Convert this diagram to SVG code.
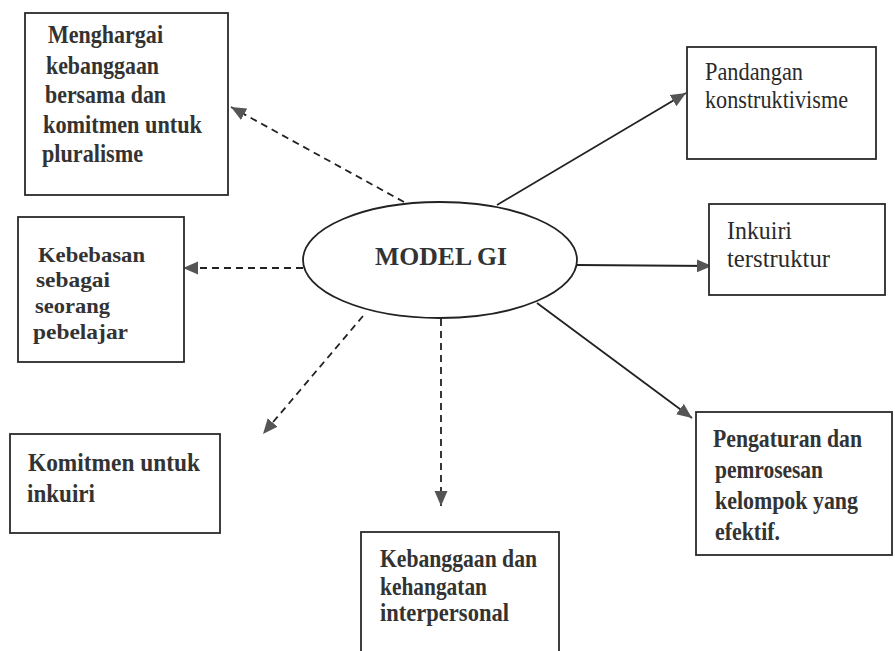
<svg xmlns="http://www.w3.org/2000/svg" width="895" height="651" viewBox="0 0 895 651">
<style>
.box{fill:#fff;stroke:#2a2a2a;stroke-width:1.8}
.t{font-family:"Liberation Serif","Times New Roman",serif;font-weight:bold;font-size:25px;fill:#333}
.r{font-weight:normal;fill:#2a2a2a}
.s{font-size:22px}
.c{fill:none;stroke:#222;stroke-width:1.8}
.d{stroke-dasharray:7 5}
</style>
<defs>
<marker id="ah" markerUnits="userSpaceOnUse" markerWidth="17" markerHeight="14" refX="15" refY="6.5" orient="auto">
<path d="M0,0 L15,6.5 L0,13 Z" fill="#555"/>
</marker>
</defs>
<rect width="895" height="651" fill="#fff"/>
<g id="connectors">
<line class="c d" x1="404" y1="202" x2="231" y2="107" marker-end="url(#ah)"/>
<line class="c" x1="497" y1="205" x2="686" y2="93" marker-end="url(#ah)"/>
<line class="c d" x1="303" y1="268" x2="183" y2="268" marker-end="url(#ah)"/>
<line class="c" x1="577" y1="265" x2="712" y2="266" marker-end="url(#ah)"/>
<line class="c d" x1="363" y1="316" x2="263" y2="434" marker-end="url(#ah)"/>
<line class="c d" x1="441" y1="319" x2="441" y2="506" marker-end="url(#ah)"/>
<line class="c" x1="537" y1="303" x2="692" y2="418" marker-end="url(#ah)"/>
</g>
<g id="center">
<ellipse cx="440" cy="260" rx="137" ry="58" fill="#fff" stroke="#222" stroke-width="1.8"/>
<text class="t" x="375" y="265" font-size="33" textLength="132" lengthAdjust="spacingAndGlyphs">MODEL GI</text>
</g>
<g id="n-menghargai">
<rect class="box" x="25" y="13" width="203" height="182"/>
<text class="t" x="48" y="43" textLength="115" lengthAdjust="spacingAndGlyphs">Menghargai</text>
<text class="t" x="46" y="74" textLength="113" lengthAdjust="spacingAndGlyphs">kebanggaan</text>
<text class="t" x="45" y="103" textLength="121" lengthAdjust="spacingAndGlyphs">bersama dan</text>
<text class="t" x="43" y="133" textLength="159" lengthAdjust="spacingAndGlyphs">komitmen untuk</text>
<text class="t" x="42" y="162" textLength="101" lengthAdjust="spacingAndGlyphs">pluralisme</text>
</g>
<g id="n-pandangan">
<rect class="box" x="687" y="47" width="189" height="112"/>
<text class="t r" x="705" y="80" textLength="98" lengthAdjust="spacingAndGlyphs">Pandangan</text>
<text class="t r" x="705" y="108" textLength="143" lengthAdjust="spacingAndGlyphs">konstruktivisme</text>
</g>
<g id="n-inkuiri">
<rect class="box" x="709" y="204" width="176" height="91"/>
<text class="t r" x="727" y="239" textLength="65" lengthAdjust="spacingAndGlyphs">Inkuiri</text>
<text class="t r" x="727" y="267" textLength="103" lengthAdjust="spacingAndGlyphs">terstruktur</text>
</g>
<g id="n-kebebasan">
<rect class="box" x="18" y="217" width="166" height="145"/>
<text class="t s" x="38" y="262" textLength="107" lengthAdjust="spacingAndGlyphs">Kebebasan</text>
<text class="t s" x="36" y="287" textLength="74" lengthAdjust="spacingAndGlyphs">sebagai</text>
<text class="t s" x="35" y="313" textLength="75" lengthAdjust="spacingAndGlyphs">seorang</text>
<text class="t s" x="33" y="339" textLength="95" lengthAdjust="spacingAndGlyphs">pebelajar</text>
</g>
<g id="n-komitmen">
<rect class="box" x="10" y="434" width="210" height="99"/>
<text class="t" x="28" y="471" textLength="172" lengthAdjust="spacingAndGlyphs">Komitmen untuk</text>
<text class="t" x="27" y="502" textLength="68" lengthAdjust="spacingAndGlyphs">inkuiri</text>
</g>
<g id="n-kebanggaan">
<rect class="box" x="361" y="532" width="198" height="140"/>
<text class="t" x="380" y="567" font-size="27" textLength="157" lengthAdjust="spacingAndGlyphs">Kebanggaan dan</text>
<text class="t" x="380" y="595" font-size="27" textLength="107" lengthAdjust="spacingAndGlyphs">kehangatan</text>
<text class="t" x="380" y="621" font-size="27" textLength="129" lengthAdjust="spacingAndGlyphs">interpersonal</text>
</g>
<g id="n-pengaturan">
<rect class="box" x="696" y="412" width="196" height="143"/>
<text class="t" x="713" y="447" textLength="149" lengthAdjust="spacingAndGlyphs">Pengaturan dan</text>
<text class="t" x="715" y="478" textLength="108" lengthAdjust="spacingAndGlyphs">pemrosesan</text>
<text class="t" x="715" y="509" textLength="143" lengthAdjust="spacingAndGlyphs">kelompok yang</text>
<text class="t" x="715" y="540" textLength="65" lengthAdjust="spacingAndGlyphs">efektif.</text>
</g>
</svg>
